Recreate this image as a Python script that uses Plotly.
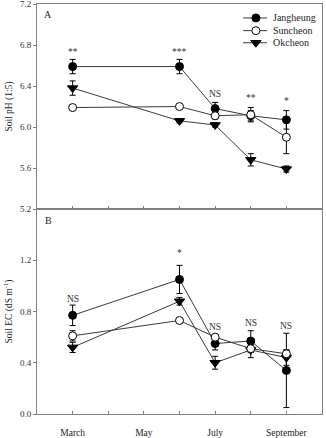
import plotly.graph_objects as go

# ---- data ----
months = [3, 6, 7, 8, 9]
tick_vals = [3, 4, 5, 6, 7, 8, 9]
tick_text = ["March", " ", "May", " ", "July", " ", "September"]
ph_ticks = [5.2, 5.6, 6.0, 6.4, 6.8, 7.2]
ec_ticks = [0.0, 0.4, 0.8, 1.2]

ph_jang = [6.59, 6.59, 6.18, 6.11, 6.07]
ph_jang_err = [0.07, 0.07, 0.06, 0.05, 0.09]
ph_sun = [6.19, 6.20, 6.11, 6.12, 5.90]
ph_sun_err = [0.02, 0.02, 0.03, 0.07, 0.16]
ph_ok = [6.38, 6.06, 6.02, 5.68, 5.59]
ph_ok_err = [0.07, 0.02, 0.02, 0.06, 0.03]
ph_sig = ["**", "***", "NS", "**", "*"]
ph_sig_y = [6.73, 6.73, 6.32, 6.28, 6.25]

ec_jang = [0.77, 1.05, 0.55, 0.57, 0.34]
ec_jang_err = [0.08, 0.11, 0.05, 0.08, 0.29]
ec_sun = [0.61, 0.73, 0.60, 0.51, 0.47]
ec_sun_err = [0.04, 0.01, 0.02, 0.03, 0.03]
ec_ok = [0.52, 0.88, 0.40, 0.50, 0.44]
ec_ok_err = [0.04, 0.03, 0.05, 0.06, 0.06]
ec_sig = ["NS", "*", "NS", "NS", "NS"]
ec_sig_y = [0.90, 1.26, 0.68, 0.71, 0.69]

legend_names = ["Jangheung", "Suncheon", "Okcheon"]

FONT = "Liberation Serif, Times New Roman, serif"
LINE_C = "#3a3a3a"
AX_C = "#808080"

MK = {
    "Jangheung": dict(symbol="circle", size=8, color="black", line=dict(color="black", width=1)),
    "Suncheon": dict(symbol="circle", size=8, color="white", line=dict(color="black", width=1)),
    "Okcheon": dict(symbol="triangle-down", size=9, color="black", line=dict(color="black", width=1)),
}

series = [
    ("Jangheung", ph_jang, ph_jang_err, ec_jang, ec_jang_err),
    ("Okcheon", ph_ok, ph_ok_err, ec_ok, ec_ok_err),
    ("Suncheon", ph_sun, ph_sun_err, ec_sun, ec_sun_err),
]

fig = go.Figure()
for name, ph, phe, ec, ece in series:
    fig.add_trace(go.Scatter(
        x=months, y=ph, name=name, mode="lines+markers",
        line=dict(color=LINE_C, width=1), marker=MK[name],
        error_y=dict(type="data", array=phe, color="black", thickness=1, width=3),
        xaxis="x", yaxis="y"))
    fig.add_trace(go.Scatter(
        x=months, y=ec, name=name, mode="lines+markers",
        line=dict(color=LINE_C, width=1), marker=MK[name],
        error_y=dict(type="data", array=ece, color="black", thickness=1, width=3),
        xaxis="x2", yaxis="y2"))

# ---- custom legend (layout positions in an invisible overlay axis, 0..1) ----
LEG_X0, LEG_XM, LEG_X1, LEG_XT = 0.723, 0.768, 0.807, 0.821
LEG_Y = [0.932, 0.870, 0.811]
annotations = []
for name, ly in zip(legend_names, LEG_Y):
    fig.add_trace(go.Scatter(x=[LEG_X0, LEG_X1], y=[ly, ly], mode="lines",
                             line=dict(color=LINE_C, width=1), xaxis="x3", yaxis="y3",
                             hoverinfo="skip"))
    fig.add_trace(go.Scatter(x=[LEG_XM], y=[ly], mode="markers", marker=MK[name],
                             xaxis="x3", yaxis="y3", hoverinfo="skip"))
    annotations.append(dict(x=LEG_XT, y=ly, xref="x3", yref="y3", text=name,
                            showarrow=False, xanchor="left", yanchor="middle",
                            font=dict(family=FONT, size=10, color="#222")))

for m, s, yv in zip(months, ph_sig, ph_sig_y):
    annotations.append(dict(x=m, y=yv, xref="x", yref="y", text=s, showarrow=False,
                            font=dict(family=FONT, size=9.5, color="#333")))
for m, s, yv in zip(months, ec_sig, ec_sig_y):
    annotations.append(dict(x=m, y=yv, xref="x2", yref="y2", text=s, showarrow=False,
                            font=dict(family=FONT, size=9.5, color="#333")))
annotations.append(dict(x=0.04, y=0.975, xref="paper", yref="paper", text="A", showarrow=False,
                        xanchor="center", yanchor="middle",
                        font=dict(family=FONT, size=10, color="#222")))
annotations.append(dict(x=0.04, y=0.473, xref="paper", yref="paper", text="B", showarrow=False,
                        xanchor="center", yanchor="middle",
                        font=dict(family=FONT, size=10, color="#222")))

base_x = dict(range=[2, 10], tickvals=tick_vals, showgrid=False, zeroline=False,
              automargin=False,
              tickfont=dict(family=FONT, size=9.5, color="#222"))
ycommon = dict(ticks="outside", ticklen=3, tickcolor=AX_C, showline=True,
               linecolor=AX_C, linewidth=1, mirror=True, showgrid=False,
               zeroline=False, tickformat=".1f", ticklabeloverflow="allow",
               automargin=False,
               tickfont=dict(family=FONT, size=9, color="#333"))

fig.update_layout(
    template="none",
    width=326, height=438,
    margin=dict(l=37, r=4, t=4, b=24),
    paper_bgcolor="white", plot_bgcolor="white",
    font=dict(family=FONT, size=9.5, color="#222"),
    showlegend=False,
    xaxis=dict(**base_x, anchor="y", showticklabels=False, matches="x2",
               ticks="inside", ticklen=3, tickcolor=AX_C, showline=True,
               linecolor=AX_C, linewidth=1, mirror=True),
    # labelled bottom axis: invisible long outside ticks push the labels down
    xaxis2=dict(**base_x, anchor="y2", ticktext=tick_text, showticklabels=True,
                ticks="outside", ticklen=10, tickcolor="rgba(0,0,0,0)",
                showline=True, linecolor=AX_C, linewidth=1, mirror=True,
                ticklabeloverflow="allow"),
    # overlay axis that draws the short inside ticks of the bottom panel
    xaxis4=dict(overlaying="x2", anchor="y2", side="bottom", range=[2, 10],
                tickvals=tick_vals, ticks="inside", ticklen=3, tickcolor=AX_C,
                showticklabels=False, showline=False, showgrid=False, zeroline=False,
                automargin=False),
    xaxis3=dict(overlaying="x", anchor="y3", range=[0, 1], visible=False, fixedrange=True,
                automargin=False),
    yaxis=dict(**ycommon, domain=[0.5, 1], range=[5.2, 7.2005],
               tickvals=ph_ticks,
               title=dict(text="Soil pH (1:5)", standoff=5,
                          font=dict(family=FONT, size=9.5, color="#222"))),
    yaxis2=dict(**ycommon, domain=[0, 0.5], range=[0, 1.6],
                tickvals=ec_ticks,
                title=dict(text="Soil EC (dS m<sup>-1</sup>)", standoff=5,
                           font=dict(family=FONT, size=9.5, color="#222"))),
    yaxis3=dict(overlaying="y", anchor="x3", range=[0, 1], visible=False, fixedrange=True,
                automargin=False),
    annotations=annotations,
)
# a dummy invisible trace so the overlay tick axis is rendered
fig.add_trace(go.Scatter(x=[months[0]], y=[ec_jang[0]], mode="markers",
                         marker=dict(opacity=0), xaxis="x4", yaxis="y2", hoverinfo="skip"))

fig.write_html("out.html")
